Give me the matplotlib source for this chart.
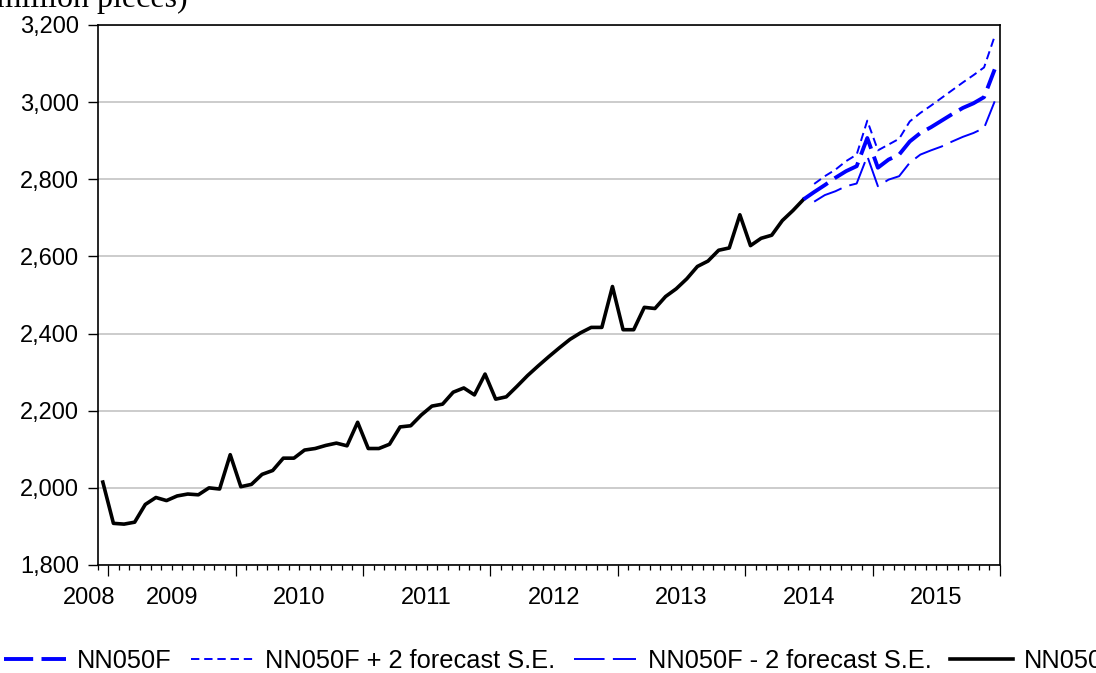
import numpy as np
import matplotlib
matplotlib.use("Agg")
from matplotlib import pyplot as plt
from matplotlib.ticker import FuncFormatter

plt.rcParams['font.family'] = ['Liberation Sans', 'DejaVu Sans']
plt.rcParams['lines.scale_dashes'] = False

# monthly observations, index 0 = Dec 2008
actual = [2015, 1908, 1906, 1911, 1957, 1975, 1967, 1979, 1984, 1982, 2000, 1997,
          2086, 2003, 2009, 2035, 2045, 2077, 2077, 2098, 2102, 2110, 2116, 2109,
          2170, 2102, 2102, 2113, 2158, 2161, 2189, 2212, 2217, 2248, 2259, 2241,
          2295, 2230, 2236, 2263, 2291, 2316, 2340, 2363, 2385, 2402, 2416, 2416,
          2522, 2410, 2410, 2468, 2465, 2496, 2516, 2542, 2574, 2588, 2616, 2622,
          2708, 2628, 2647, 2655, 2693, 2719, 2748]
forecast = [2748, 2767, 2785, 2804, 2821, 2834, 2907, 2830, 2851, 2864, 2898, 2920,
            2935, 2952, 2969, 2985, 2997, 3013, 3085]
upper = [2788, 2808, 2825, 2847, 2864, 2952, 2875, 2890, 2905, 2950, 2972, 2991,
         3011, 3031, 3051, 3070, 3090, 3171]
lower = [2742, 2759, 2769, 2782, 2789, 2860, 2782, 2799, 2808, 2843, 2864, 2875,
         2885, 2898, 2910, 2920, 2933, 3002]

years = ['2008', '2009', '2010', '2011', '2012', '2013', '2014', '2015']
year_pos = [-1.3, 6.5, 18.5, 30.5, 42.5, 54.5, 66.5, 78.5]
labels = ['NN050F', 'NN050F + 2 forecast S.E.', 'NN050F - 2 forecast S.E.', 'NN050']

n_act = len(actual)
x_act = np.arange(n_act)
x_fc = np.arange(n_act - 1, n_act - 1 + len(forecast))
x_band = np.arange(n_act, n_act + len(upper))
n_total = n_act - 1 + len(forecast)

fig = plt.figure(figsize=(10.96, 6.73), dpi=100)
ax = fig.add_axes([97.5/1096, 1-565/673, (1000-97.5)/1096, 540/673])

act_line, = ax.plot(x_act, actual, color='black', lw=2.6)
fc_line, = ax.plot(x_fc, forecast, color='#0000ff', lw=2.8, linestyle=(0, (21, 6)))
up_line, = ax.plot(x_band, upper, color='#0000ff', lw=1.4, linestyle=(0, (6, 3.5)))
lo_line, = ax.plot(x_band, lower, color='#0000ff', lw=1.4, linestyle=(0, (22, 6)))

ax.set_xlim(-0.5, n_total - 0.5)
ax.set_ylim(1800, 3200)
ax.set_yticks(np.arange(1800, 3201, 200))
ax.yaxis.set_major_formatter(FuncFormatter(lambda v, p: '{:,.0f}'.format(v)))
ax.grid(axis='y', color='#c8c8c8', lw=1.3)
ax.set_axisbelow(True)

ax.set_xticks(np.arange(0.5, n_total, 12))
ax.set_xticks(np.arange(-0.5, n_total, 1), minor=True)
ax.set_xticklabels([])
ax.tick_params(axis='x', which='major', direction='out', length=8, width=0.9)
ax.tick_params(axis='x', which='minor', direction='out', length=3.6, width=0.9)
ax.tick_params(axis='y', direction='out', length=7, width=1, pad=6.5, labelsize=17)
for s in ax.spines.values():
    s.set_linewidth(1.2)

for yr, xp in zip(years, year_pos):
    ax.text(xp, -22/540, yr, transform=ax.get_xaxis_transform(), ha='center',
            va='top', fontsize=17, clip_on=False)

fig.text(188/1096, 1-7/673, '(million pieces)', ha='right', va='baseline',
         fontsize=23, family='Liberation Serif')

fig.legend([fc_line, up_line, lo_line, act_line], labels, ncol=4, loc='center left',
           bbox_to_anchor=(3.5/1096, 1-661/673), frameon=False, fontsize=18.3,
           handlelength=2.45, handletextpad=0.45, columnspacing=0.75,
           borderpad=0, borderaxespad=0)

fig.savefig('out.png', dpi=100)
